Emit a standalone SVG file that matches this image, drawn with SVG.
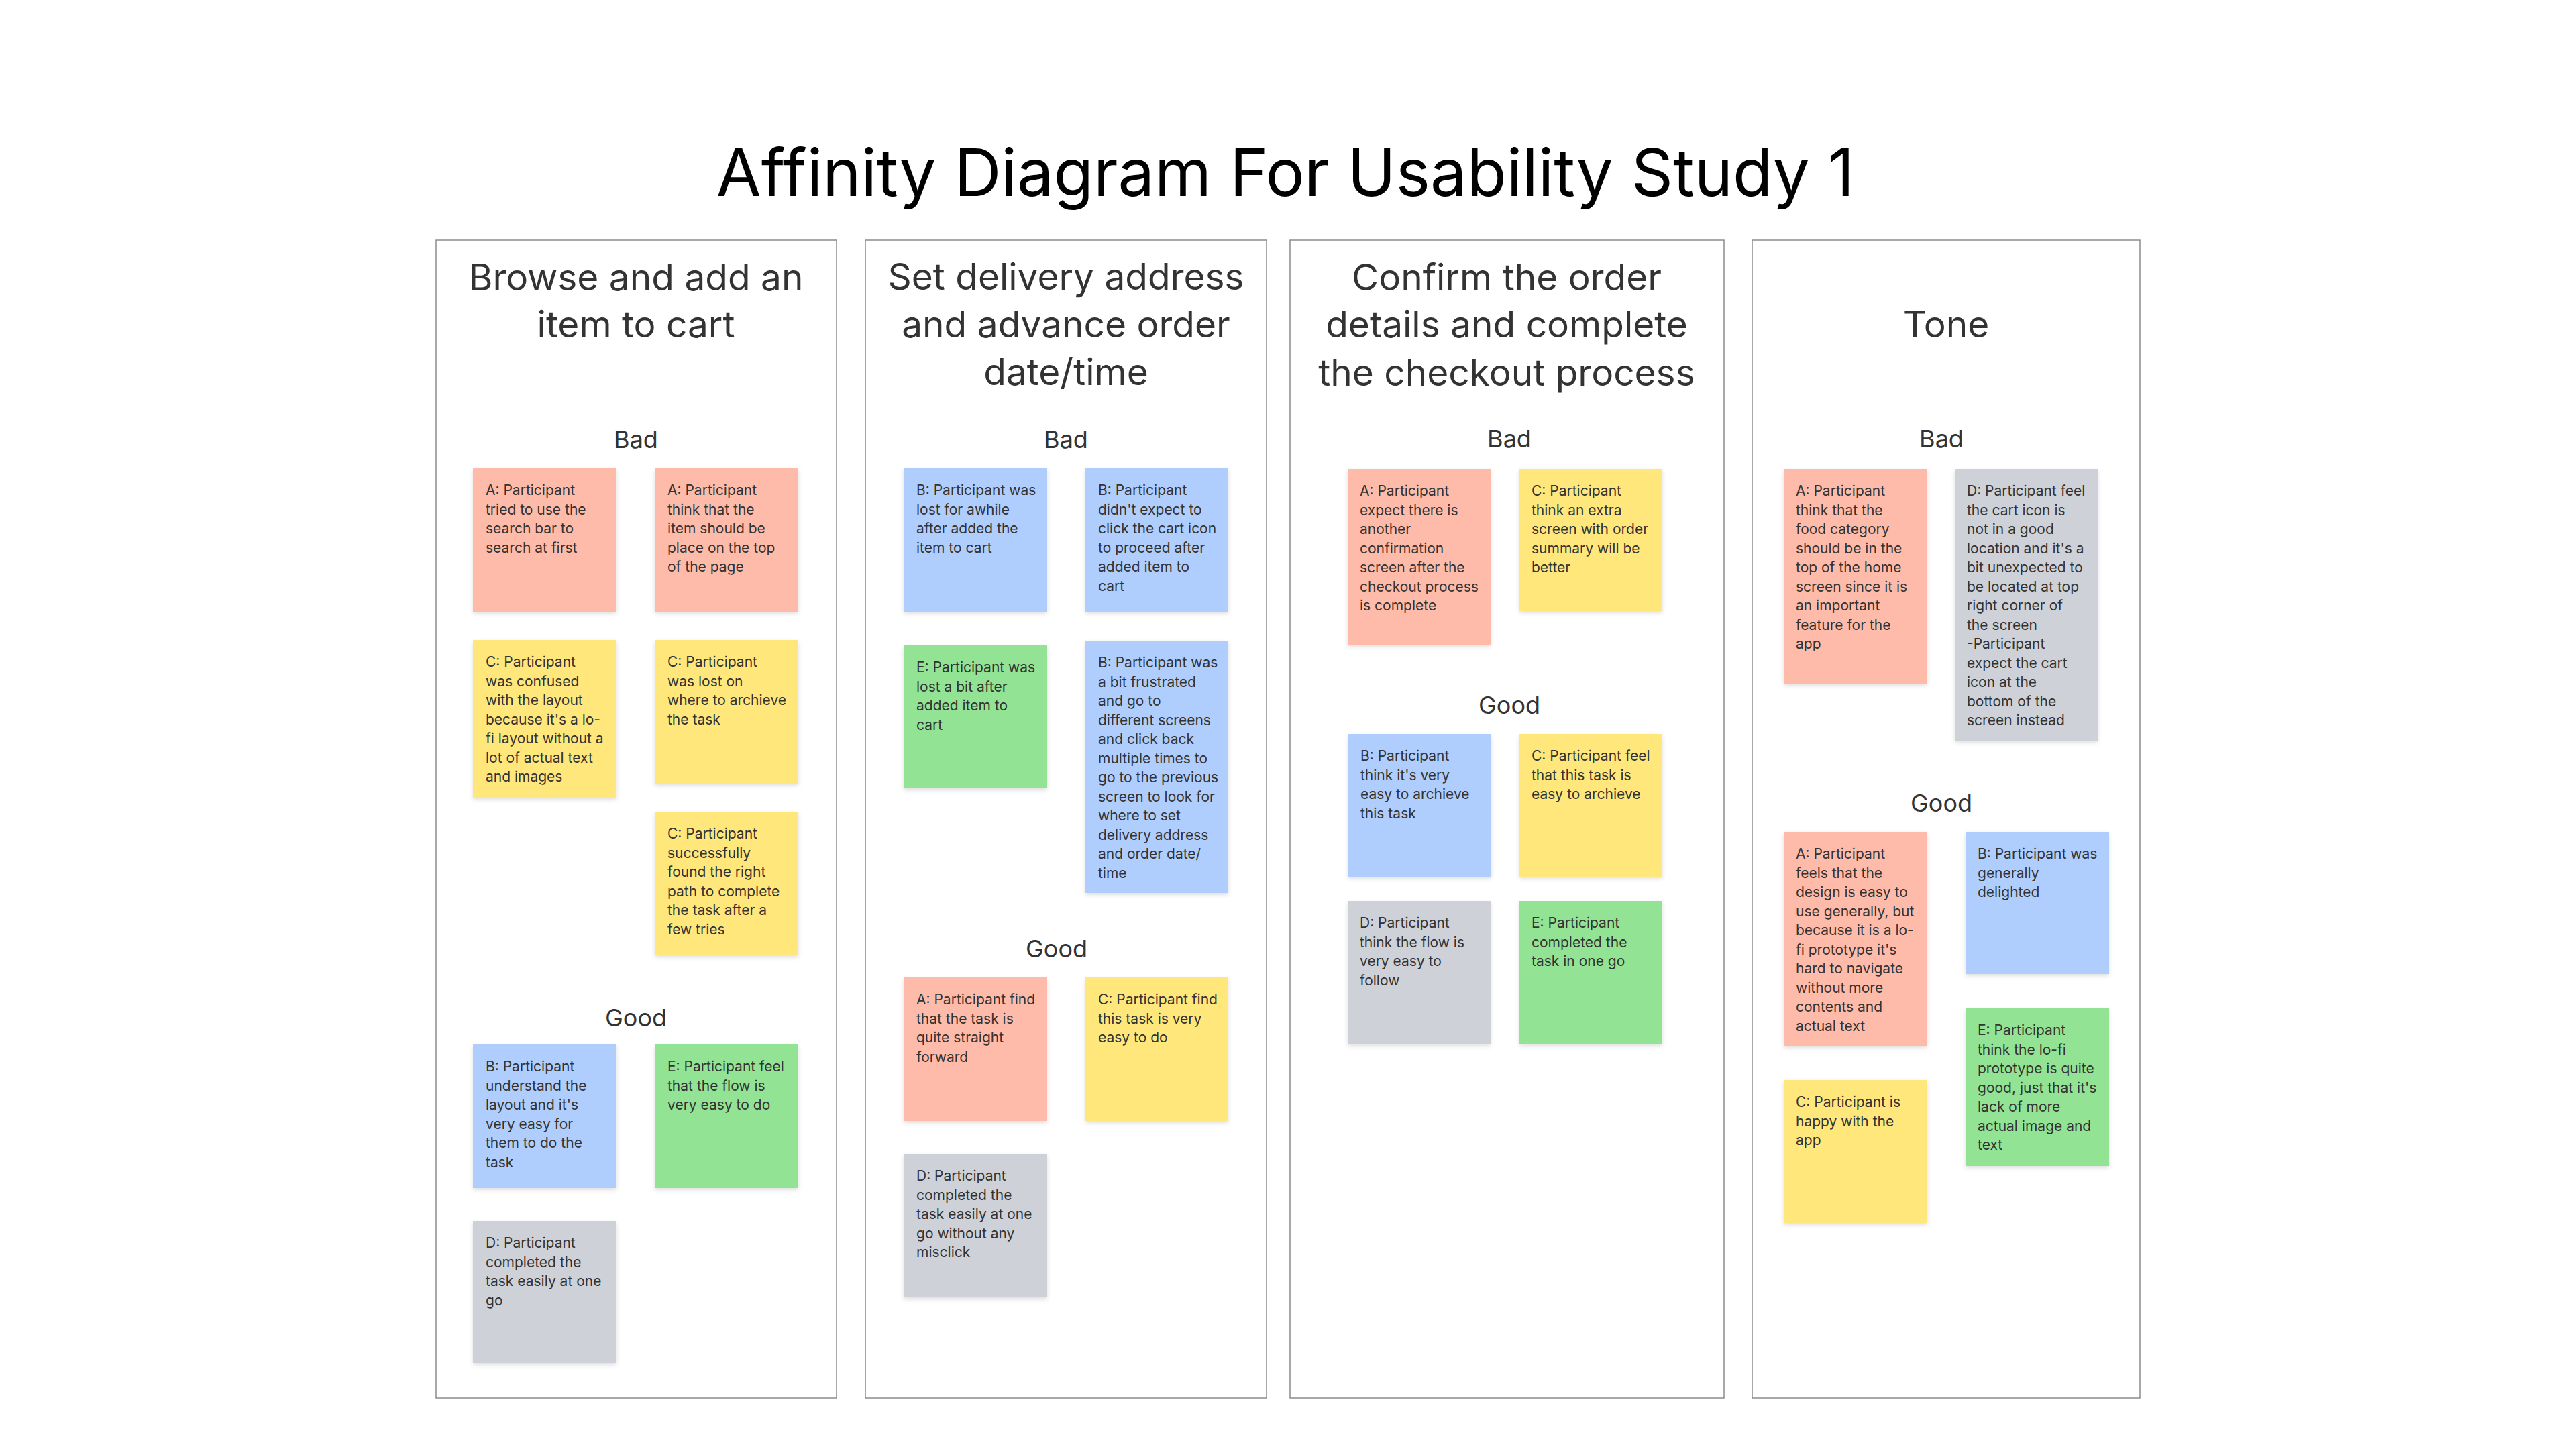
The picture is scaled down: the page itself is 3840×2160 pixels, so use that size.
<svg xmlns="http://www.w3.org/2000/svg" width="3840" height="2160" viewBox="0 0 3840 2160">
<defs>
<filter id="sh" x="-10%" y="-10%" width="130%" height="130%">
<feDropShadow dx="0" dy="3" stdDeviation="3" flood-color="#000" flood-opacity="0.13"/>
</filter>
<style>
text{font-family:Inter,"Noto Sans","Liberation Sans",sans-serif;}
.title{font-size:97px;fill:#000;text-anchor:middle;}
.head{font-size:55px;fill:#333;text-anchor:middle;}
.sub{font-size:36px;fill:#333;text-anchor:middle;}
.panel{fill:#fff;stroke:#8c8c8c;stroke-width:1.5;}
.note rect{filter:url(#sh);}
.note text{font-size:21px;fill:#333;}
.red{fill:#FFBBAA;}
.yel{fill:#FFE77C;}
.blu{fill:#AFCDFD;}
.grn{fill:#93E394;}
.gry{fill:#CED2D8;}
</style>
</defs>
<rect x="0" y="0" width="3840" height="2160" fill="#fff"/>
<text class="title" x="1916" y="292">Affinity Diagram For Usability Study 1</text>

<!-- Panel 1 -->
<g id="panel-browse">
<rect class="panel" x="650" y="358" width="597" height="1726"/>
<text class="head" x="948"><tspan x="948" y="433">Browse and add an</tspan><tspan x="948" y="503">item to cart</tspan></text>
<text class="sub" x="948" y="668">Bad</text>
<text class="sub" x="948" y="1530">Good</text>
</g>
<g id="p1-bad-a1" class="note"><rect class="red" x="705" y="698" width="214" height="214"/><text x="724" y="738"><tspan x="724">A: Participant</tspan><tspan x="724" dy="28.5">tried to use the</tspan><tspan x="724" dy="28.5">search bar to</tspan><tspan x="724" dy="28.5">search at first</tspan></text></g>
<g id="p1-bad-a2" class="note"><rect class="red" x="976" y="698" width="214" height="214"/><text x="995" y="738"><tspan x="995">A: Participant</tspan><tspan x="995" dy="28.5">think that the</tspan><tspan x="995" dy="28.5">item should be</tspan><tspan x="995" dy="28.5">place on the top</tspan><tspan x="995" dy="28.5">of the page</tspan></text></g>
<g id="p1-bad-c1" class="note"><rect class="yel" x="705" y="954" width="214" height="235"/><text x="724" y="994"><tspan x="724">C: Participant</tspan><tspan x="724" dy="28.5">was confused</tspan><tspan x="724" dy="28.5">with the layout</tspan><tspan x="724" dy="28.5">because it's a lo-</tspan><tspan x="724" dy="28.5">fi layout without a</tspan><tspan x="724" dy="28.5">lot of actual text</tspan><tspan x="724" dy="28.5">and images</tspan></text></g>
<g id="p1-bad-c2" class="note"><rect class="yel" x="976" y="954" width="214" height="214"/><text x="995" y="994"><tspan x="995">C: Participant</tspan><tspan x="995" dy="28.5">was lost on</tspan><tspan x="995" dy="28.5">where to archieve</tspan><tspan x="995" dy="28.5">the task</tspan></text></g>
<g id="p1-bad-c3" class="note"><rect class="yel" x="976" y="1210" width="214" height="214"/><text x="995" y="1250"><tspan x="995">C: Participant</tspan><tspan x="995" dy="28.5">successfully</tspan><tspan x="995" dy="28.5">found the right</tspan><tspan x="995" dy="28.5">path to complete</tspan><tspan x="995" dy="28.5">the task after a</tspan><tspan x="995" dy="28.5">few tries</tspan></text></g>
<g id="p1-good-b" class="note"><rect class="blu" x="705" y="1557" width="214" height="214"/><text x="724" y="1597"><tspan x="724">B: Participant</tspan><tspan x="724" dy="28.5">understand the</tspan><tspan x="724" dy="28.5">layout and it's</tspan><tspan x="724" dy="28.5">very easy for</tspan><tspan x="724" dy="28.5">them to do the</tspan><tspan x="724" dy="28.5">task</tspan></text></g>
<g id="p1-good-e" class="note"><rect class="grn" x="976" y="1557" width="214" height="214"/><text x="995" y="1597"><tspan x="995">E: Participant feel</tspan><tspan x="995" dy="28.5">that the flow is</tspan><tspan x="995" dy="28.5">very easy to do</tspan></text></g>
<g id="p1-good-d" class="note"><rect class="gry" x="705" y="1820" width="214" height="212"/><text x="724" y="1860"><tspan x="724">D: Participant</tspan><tspan x="724" dy="28.5">completed the</tspan><tspan x="724" dy="28.5">task easily at one</tspan><tspan x="724" dy="28.5">go</tspan></text></g>

<!-- Panel 2 -->
<g id="panel-delivery">
<rect class="panel" x="1290" y="358" width="598" height="1726"/>
<text class="head" x="1589"><tspan x="1589" y="432">Set delivery address</tspan><tspan x="1589" y="503">and advance order</tspan><tspan x="1589" y="574">date/time</tspan></text>
<text class="sub" x="1589" y="668">Bad</text>
<text class="sub" x="1575" y="1427">Good</text>
</g>
<g id="p2-bad-b1" class="note"><rect class="blu" x="1347" y="698" width="214" height="214"/><text x="1366" y="738"><tspan x="1366">B: Participant was</tspan><tspan x="1366" dy="28.5">lost for awhile</tspan><tspan x="1366" dy="28.5">after added the</tspan><tspan x="1366" dy="28.5">item to cart</tspan></text></g>
<g id="p2-bad-b2" class="note"><rect class="blu" x="1618" y="698" width="213" height="214"/><text x="1637" y="738"><tspan x="1637">B: Participant</tspan><tspan x="1637" dy="28.5">didn't expect to</tspan><tspan x="1637" dy="28.5">click the cart icon</tspan><tspan x="1637" dy="28.5">to proceed after</tspan><tspan x="1637" dy="28.5">added item to</tspan><tspan x="1637" dy="28.5">cart</tspan></text></g>
<g id="p2-bad-e" class="note"><rect class="grn" x="1347" y="962" width="214" height="213"/><text x="1366" y="1002"><tspan x="1366">E: Participant was</tspan><tspan x="1366" dy="28.5">lost a bit after</tspan><tspan x="1366" dy="28.5">added item to</tspan><tspan x="1366" dy="28.5">cart</tspan></text></g>
<g id="p2-bad-b3" class="note"><rect class="blu" x="1618" y="955" width="213" height="376"/><text x="1637" y="995"><tspan x="1637">B: Participant was</tspan><tspan x="1637" dy="28.5">a bit frustrated</tspan><tspan x="1637" dy="28.5">and go to</tspan><tspan x="1637" dy="28.5">different screens</tspan><tspan x="1637" dy="28.5">and click back</tspan><tspan x="1637" dy="28.5">multiple times to</tspan><tspan x="1637" dy="28.5">go to the previous</tspan><tspan x="1637" dy="28.5">screen to look for</tspan><tspan x="1637" dy="28.5">where to set</tspan><tspan x="1637" dy="28.5">delivery address</tspan><tspan x="1637" dy="28.5">and order date/</tspan><tspan x="1637" dy="28.5">time</tspan></text></g>
<g id="p2-good-a" class="note"><rect class="red" x="1347" y="1457" width="214" height="214"/><text x="1366" y="1497"><tspan x="1366">A: Participant find</tspan><tspan x="1366" dy="28.5">that the task is</tspan><tspan x="1366" dy="28.5">quite straight</tspan><tspan x="1366" dy="28.5">forward</tspan></text></g>
<g id="p2-good-c" class="note"><rect class="yel" x="1618" y="1457" width="213" height="214"/><text x="1637" y="1497"><tspan x="1637">C: Participant find</tspan><tspan x="1637" dy="28.5">this task is very</tspan><tspan x="1637" dy="28.5">easy to do</tspan></text></g>
<g id="p2-good-d" class="note"><rect class="gry" x="1347" y="1720" width="214" height="214"/><text x="1366" y="1760"><tspan x="1366">D: Participant</tspan><tspan x="1366" dy="28.5">completed the</tspan><tspan x="1366" dy="28.5">task easily at one</tspan><tspan x="1366" dy="28.5">go without any</tspan><tspan x="1366" dy="28.5">misclick</tspan></text></g>

<!-- Panel 3 -->
<g id="panel-confirm">
<rect class="panel" x="1923" y="358" width="647" height="1726"/>
<text class="head" x="2246"><tspan x="2246" y="433">Confirm the order</tspan><tspan x="2246" y="503">details and complete</tspan><tspan x="2246" y="575">the checkout process</tspan></text>
<text class="sub" x="2250" y="667">Bad</text>
<text class="sub" x="2250" y="1064">Good</text>
</g>
<g id="p3-bad-a" class="note"><rect class="red" x="2009" y="699" width="213" height="262"/><text x="2027" y="739"><tspan x="2027">A: Participant</tspan><tspan x="2027" dy="28.5">expect there is</tspan><tspan x="2027" dy="28.5">another</tspan><tspan x="2027" dy="28.5">confirmation</tspan><tspan x="2027" dy="28.5">screen after the</tspan><tspan x="2027" dy="28.5">checkout process</tspan><tspan x="2027" dy="28.5">is complete</tspan></text></g>
<g id="p3-bad-c" class="note"><rect class="yel" x="2265" y="699" width="213" height="212"/><text x="2283" y="739"><tspan x="2283">C: Participant</tspan><tspan x="2283" dy="28.5">think an extra</tspan><tspan x="2283" dy="28.5">screen with order</tspan><tspan x="2283" dy="28.5">summary will be</tspan><tspan x="2283" dy="28.5">better</tspan></text></g>
<g id="p3-good-b" class="note"><rect class="blu" x="2010" y="1094" width="213" height="213"/><text x="2028" y="1134"><tspan x="2028">B: Participant</tspan><tspan x="2028" dy="28.5">think it's very</tspan><tspan x="2028" dy="28.5">easy to archieve</tspan><tspan x="2028" dy="28.5">this task</tspan></text></g>
<g id="p3-good-c" class="note"><rect class="yel" x="2265" y="1094" width="213" height="213"/><text x="2283" y="1134"><tspan x="2283">C: Participant feel</tspan><tspan x="2283" dy="28.5">that this task is</tspan><tspan x="2283" dy="28.5">easy to archieve</tspan></text></g>
<g id="p3-good-d" class="note"><rect class="gry" x="2009" y="1343" width="213" height="213"/><text x="2027" y="1383"><tspan x="2027">D: Participant</tspan><tspan x="2027" dy="28.5">think the flow is</tspan><tspan x="2027" dy="28.5">very easy to</tspan><tspan x="2027" dy="28.5">follow</tspan></text></g>
<g id="p3-good-e" class="note"><rect class="grn" x="2265" y="1343" width="213" height="213"/><text x="2283" y="1383"><tspan x="2283">E: Participant</tspan><tspan x="2283" dy="28.5">completed the</tspan><tspan x="2283" dy="28.5">task in one go</tspan></text></g>

<!-- Panel 4 -->
<g id="panel-tone">
<rect class="panel" x="2612" y="358" width="578" height="1726"/>
<text class="head" x="2901" y="503">Tone</text>
<text class="sub" x="2894" y="667">Bad</text>
<text class="sub" x="2894" y="1210">Good</text>
</g>
<g id="p4-bad-a" class="note"><rect class="red" x="2659" y="699" width="214" height="320"/><text x="2677" y="739"><tspan x="2677">A: Participant</tspan><tspan x="2677" dy="28.5">think that the</tspan><tspan x="2677" dy="28.5">food category</tspan><tspan x="2677" dy="28.5">should be in the</tspan><tspan x="2677" dy="28.5">top of the home</tspan><tspan x="2677" dy="28.5">screen since it is</tspan><tspan x="2677" dy="28.5">an important</tspan><tspan x="2677" dy="28.5">feature for the</tspan><tspan x="2677" dy="28.5">app</tspan></text></g>
<g id="p4-bad-d" class="note"><rect class="gry" x="2914" y="699" width="213" height="405"/><text x="2932" y="739"><tspan x="2932">D: Participant feel</tspan><tspan x="2932" dy="28.5">the cart icon is</tspan><tspan x="2932" dy="28.5">not in a good</tspan><tspan x="2932" dy="28.5">location and it's a</tspan><tspan x="2932" dy="28.5">bit unexpected to</tspan><tspan x="2932" dy="28.5">be located at top</tspan><tspan x="2932" dy="28.5">right corner of</tspan><tspan x="2932" dy="28.5">the screen</tspan><tspan x="2932" dy="28.5">-Participant</tspan><tspan x="2932" dy="28.5">expect the cart</tspan><tspan x="2932" dy="28.5">icon at the</tspan><tspan x="2932" dy="28.5">bottom of the</tspan><tspan x="2932" dy="28.5">screen instead</tspan></text></g>
<g id="p4-good-a" class="note"><rect class="red" x="2659" y="1240" width="214" height="319"/><text x="2677" y="1280"><tspan x="2677">A: Participant</tspan><tspan x="2677" dy="28.5">feels that the</tspan><tspan x="2677" dy="28.5">design is easy to</tspan><tspan x="2677" dy="28.5">use generally, but</tspan><tspan x="2677" dy="28.5">because it is a lo-</tspan><tspan x="2677" dy="28.5">fi prototype it's</tspan><tspan x="2677" dy="28.5">hard to navigate</tspan><tspan x="2677" dy="28.5">without more</tspan><tspan x="2677" dy="28.5">contents and</tspan><tspan x="2677" dy="28.5">actual text</tspan></text></g>
<g id="p4-good-b" class="note"><rect class="blu" x="2930" y="1240" width="214" height="212"/><text x="2948" y="1280"><tspan x="2948">B: Participant was</tspan><tspan x="2948" dy="28.5">generally</tspan><tspan x="2948" dy="28.5">delighted</tspan></text></g>
<g id="p4-good-e" class="note"><rect class="grn" x="2930" y="1503" width="214" height="235"/><text x="2948" y="1543"><tspan x="2948">E: Participant</tspan><tspan x="2948" dy="28.5">think the lo-fi</tspan><tspan x="2948" dy="28.5">prototype is quite</tspan><tspan x="2948" dy="28.5">good, just that it's</tspan><tspan x="2948" dy="28.5">lack of more</tspan><tspan x="2948" dy="28.5">actual image and</tspan><tspan x="2948" dy="28.5">text</tspan></text></g>
<g id="p4-good-c" class="note"><rect class="yel" x="2659" y="1610" width="214" height="213"/><text x="2677" y="1650"><tspan x="2677">C: Participant is</tspan><tspan x="2677" dy="28.5">happy with the</tspan><tspan x="2677" dy="28.5">app</tspan></text></g>

<g id="connectors"/>
</svg>
